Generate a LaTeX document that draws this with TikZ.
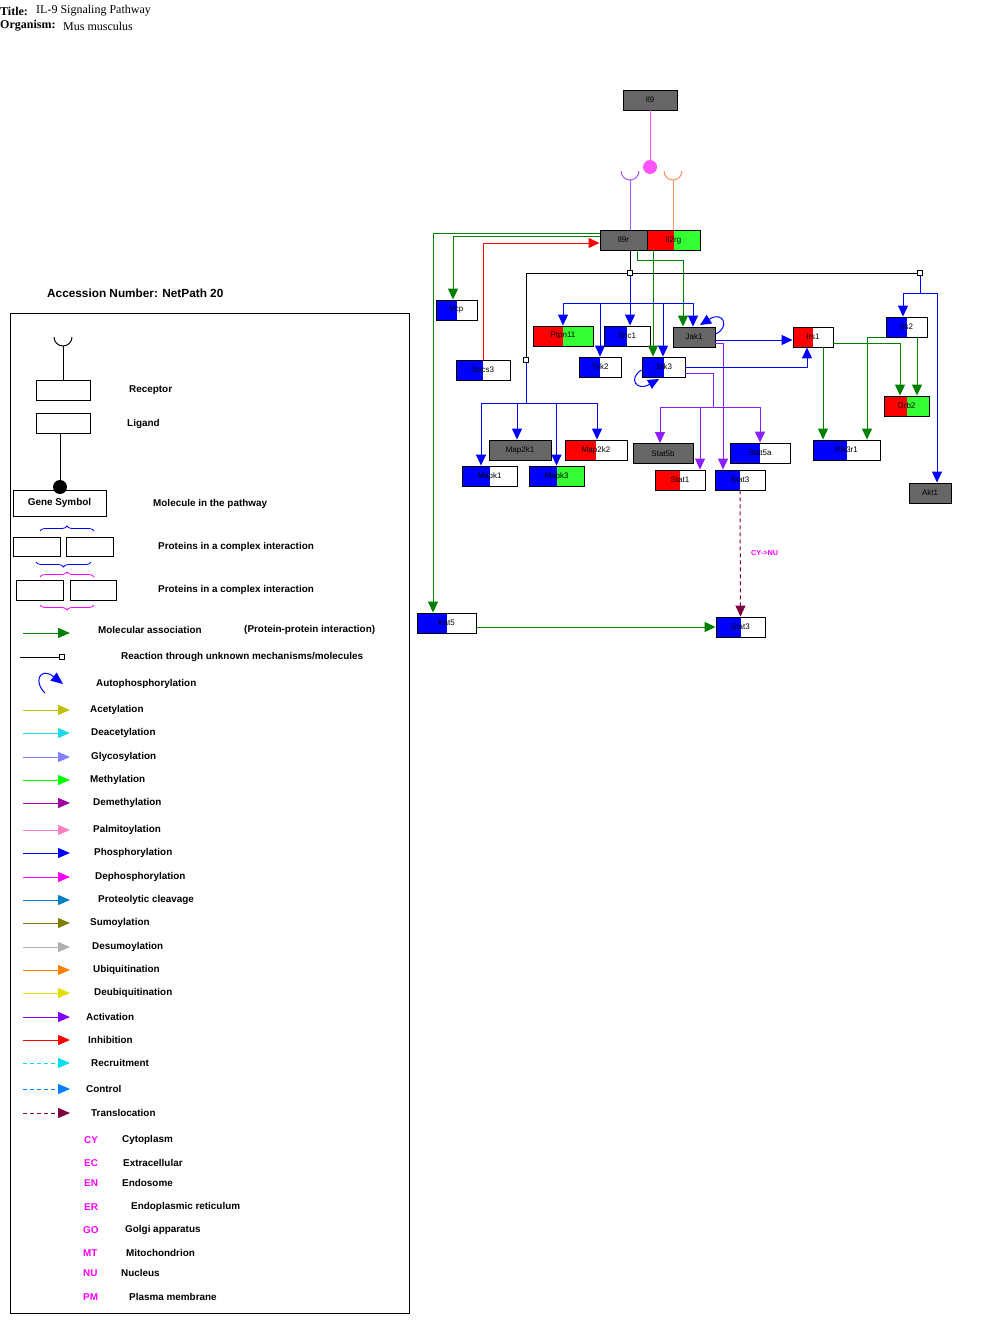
\documentclass[tikz,border=0pt]{standalone}
\usepackage{fontspec}
\setmainfont{Liberation Serif}
\newfontfamily\lsans{Liberation Sans}
\usetikzlibrary{arrows.meta,decorations.pathreplacing}
\definecolor{ggray}{HTML}{666666}
\definecolor{cgreen}{HTML}{008000}
\definecolor{lgreen}{HTML}{33FF33}
\definecolor{cpurple}{HTML}{8C1EFF}
\definecolor{cpink}{HTML}{FF55FF}
\definecolor{ccup}{HTML}{A855FF}
\definecolor{corange}{HTML}{FF9060}
\definecolor{cacet}{HTML}{C0C000}
\definecolor{cdeacet}{HTML}{20D8E8}
\definecolor{cglyco}{HTML}{8080FF}
\definecolor{cmeth}{HTML}{00FF00}
\definecolor{cdemeth}{HTML}{A000A0}
\definecolor{cpalm}{HTML}{FF80C0}
\definecolor{cphos}{HTML}{0000FF}
\definecolor{cdephos}{HTML}{FF00FF}
\definecolor{cprot}{HTML}{0080C0}
\definecolor{csumo}{HTML}{808000}
\definecolor{cdesumo}{HTML}{B0B0B0}
\definecolor{cubiq}{HTML}{FF8000}
\definecolor{cdeubiq}{HTML}{E0E000}
\definecolor{cact}{HTML}{8000FF}
\definecolor{cinhib}{HTML}{FF0000}
\definecolor{crecr}{HTML}{00E0F0}
\definecolor{cctrl}{HTML}{0080FF}
\definecolor{ctransl}{HTML}{800040}
\definecolor{cloc}{HTML}{FF00FF}
\begin{document}
\begin{tikzpicture}[x=1pt,y=-1pt,
  gene/.style={draw=black, line width=0.9pt, minimum height=20pt, inner sep=0pt,
    font=\lsans\fontsize{8}{9}\selectfont},
  lh/.style={path picture={\fill[#1] (path picture bounding box.south west) rectangle (path picture bounding box.north);}},
  ln/.style={line width=1pt},
  tip/.style={-{Triangle[length=11pt,width=10pt]}},
  assoc/.style={ln, draw=cgreen, tip},
  phos/.style={ln, draw=cphos, tip},
  act/.style={ln, draw=cpurple, tip},
  inhib/.style={ln, draw=cinhib, tip},
  transl/.style={ln, draw=ctransl, dash pattern=on 4pt off 3pt, tip},
  sq/.style={draw=black, line width=0.7pt, fill=white, minimum size=5pt, inner sep=0pt},
  lar/.style={line width=1pt, -{Triangle[length=12pt,width=10pt]}},
  leg/.style={anchor=west, inner sep=0pt, font=\lsans\bfseries\fontsize{9.9}{11}\selectfont},
  loc/.style={leg, text=cloc},
  box/.style={draw=black, line width=0.9pt, inner sep=0pt},
]
\useasboundingbox (0,0) rectangle (980,1343);

% ---------- title ----------
\node[anchor=west, inner sep=0pt, font=\fontsize{12}{13}\selectfont] (t1) at (0,11) {\textbf{Title:}};
\node[anchor=west, inner sep=0pt, font=\fontsize{12}{13}\selectfont] (t2) at (36,11) {IL-9 Signaling Pathway};
\node[anchor=west, inner sep=0pt, font=\fontsize{12}{13}\selectfont] (t3) at (0,26) {\textbf{Organism:}};
\node[anchor=west, inner sep=0pt, font=\fontsize{12}{13}\selectfont] (t4) at (63,26) {Mus musculus};

% ---------- pathway nodes ----------
\node[gene, fill=ggray, minimum width=54pt] (Il9) at (650,100) {Il9};
\node[gene, fill=ggray, minimum width=47pt] (Il9r) at (623.5,240) {Il9r};
\node[gene, fill=lgreen, lh=red, minimum width=53pt] (Il2rg) at (673.5,240) {Il2rg};
\node[gene, fill=white, lh=blue, minimum width=41pt] (Vcp) at (456.5,310) {Vcp};
\node[gene, fill=white, lh=blue, minimum width=54pt] (Socs3) at (483,370) {Socs3};
\node[gene, fill=lgreen, lh=red, minimum width=60pt] (Ptpn11) at (563,336) {Ptpn11};
\node[gene, fill=white, lh=blue, minimum width=46pt] (Shc1) at (627,336) {Shc1};
\node[gene, fill=ggray, minimum width=42pt] (Jak1) at (694,337) {Jak1};
\node[gene, fill=white, lh=blue, minimum width=42pt] (Tyk2) at (600,367) {Tyk2};
\node[gene, fill=white, lh=blue, minimum width=43pt] (Jak3) at (663.5,367) {Jak3};
\node[gene, fill=white, lh=red, minimum width=40pt] (Irs1) at (813,337) {Irs1};
\node[gene, fill=white, lh=blue, minimum width=41pt] (Irs2) at (906.5,327) {Irs2};
\node[gene, fill=lgreen, lh=red, minimum width=45pt] (Grb2) at (906.5,406) {Grb2};
\node[gene, fill=white, lh=blue, minimum width=67pt] (Pik3r1) at (846.5,450) {Pik3r1};
\node[gene, fill=ggray, minimum width=42pt] (Akt1) at (930,493) {Akt1};
\node[gene, fill=ggray, minimum width=62pt] (Map2k1) at (520,450) {Map2k1};
\node[gene, fill=white, lh=red, minimum width=62pt] (Map2k2) at (596,450) {Map2k2};
\node[gene, fill=white, lh=blue, minimum width=55pt] (Mapk1) at (489.5,476) {Mapk1};
\node[gene, fill=lgreen, lh=blue, minimum width=55pt] (Mapk3) at (556.5,476) {Mapk3};
\node[gene, fill=ggray, minimum width=60pt] (Stat5b) at (663,453.5) {Stat5b};
\node[gene, fill=white, lh=blue, minimum width=60pt] (Stat5a) at (760,453) {Stat5a};
\node[gene, fill=white, lh=red, minimum width=50pt] (Stat1) at (680,480) {Stat1};
\node[gene, fill=white, lh=blue, minimum width=50pt] (Stat3) at (740,480) {Stat3};
\node[gene, fill=white, lh=blue, minimum width=59pt] (Kat5) at (446.5,623) {Kat5};
\node[gene, fill=white, lh=blue, minimum width=49pt] (Stat3n) at (740.5,627) {Stat3};

% ---------- ligand / receptor ----------
\node[circle, fill=cpink, minimum size=14pt, inner sep=0pt] (lig) at (650,167) {};
\draw[cpink, line width=1pt] (Il9.south) -- (lig);
\coordinate (c1) at (630,180);
\coordinate (c2) at (673,180);
\draw[ccup, line width=1pt] (621,171) arc[start angle=180, end angle=360, radius=9pt];
\draw[ccup, line width=1pt] (c1) -- (c1 |- Il9r.north);
\draw[corange, line width=1pt] (664,171) arc[start angle=180, end angle=360, radius=9pt];
\draw[corange, line width=1pt] (c2) -- (c2 |- Il2rg.north);

% ---------- connectors from receptor ----------
\coordinate (k1) at (433,233);
\draw[assoc] (Il9r.west |- k1) -- (k1) -- (k1 |- Kat5.north);
\coordinate (v1) at (453,236);
\draw[assoc] (Il9r.west |- v1) -- (v1) -- (v1 |- Vcp.north);
\coordinate (r1) at (483,243);
\draw[inhib] (r1 |- Socs3.north) -- (r1) -- (Il9r.west |- r1);
\coordinate (g1) at (637,260);
\coordinate (g2) at (683,260);
\draw[assoc] (g1 |- Il9r.south) -- (g1) -- (g2) -- (g2 |- Jak1.north);
\coordinate (g3) at (653,300);
\draw[assoc] (g3 |- Il2rg.south) -- (g3 |- Jak3.north);

% unknown mechanism markers
\node[sq] (u1) at (630,273) {};
\node[sq] (u2) at (526,360) {};
\node[sq] (u3) at (920,273) {};
\draw[ln] (u1 |- Il9r.south) -- (u1.north);
\draw[ln] (u1.east) -- (u3.west);
\draw[ln] (u1.west) -| (u2.north);

% phosphorylation from u1
\coordinate (b1) at (630,303);
\draw[phos] (u1.south) -- (u1 |- Shc1.north);
\draw[phos] (b1) -| (Ptpn11.north);
\draw[phos] (b1) -| (Tyk2.north);
\draw[phos] (b1) -| ([xshift=-0.5pt]Jak3.north);
\draw[phos] (b1) -| ([xshift=-1pt]Jak1.north);

% phosphorylation from u2
\coordinate (m0) at (526,403);
\draw[ln, cphos] (u2.south) -- (m0);
\draw[phos] (m0) -| ([xshift=-8.5pt]Mapk1.north);
\draw[phos] (m0) -| ([xshift=-3pt]Map2k1.north);
\draw[phos] (m0) -| (Mapk3.north);
\draw[phos] (m0) -| ([xshift=1pt]Map2k2.north);

% phosphorylation from u3
\coordinate (a0) at (920,293);
\draw[ln, cphos] (u3.south) -- (a0);
\draw[phos] (a0) -| ([xshift=-3.5pt]Irs2.north);
\draw[phos] (a0) -| ([xshift=7pt]Akt1.north);

% autophosphorylation loops
\draw[phos] ([yshift=3pt]Jak1.east) .. controls (730,328) and (724,310) .. (700,325);
\draw[phos] ([yshift=-3pt]Jak3.west) .. controls (628,378) and (636,392) .. (659,379);

% Jak1 / Jak3 downstream
\draw[phos] ([yshift=-3pt]Jak1.east) -- ([yshift=-3pt]Irs1.west);
\coordinate (j1) at (723,343);
\draw[act] ([yshift=-6pt]Jak1.east) -- (j1) -- (j1 |- Stat3.north);
\draw[phos] (Jak3.east) -| ([xshift=-6pt]Irs1.south);
\coordinate (s0) at (713,407);
\draw[ln, cpurple] ([yshift=-6pt]Jak3.east) -| (s0);
\draw[act] (s0) -| ([xshift=-3pt]Stat5b.north);
\draw[act] (s0) -| ([xshift=20pt]Stat1.north);
\draw[act] (s0) -| (Stat5a.north);

% Irs1 / Irs2 associations
\draw[assoc] ([yshift=-6pt]Irs1.east) -| ([xshift=-6.5pt]Grb2.north);
\coordinate (i1) at (823,347);
\draw[assoc] (i1) -- (i1 |- Pik3r1.north);
\coordinate (i2) at (917,337);
\draw[assoc] (i2) -- (i2 |- Grb2.north);
\draw[assoc] (Irs2.south west) -| ([xshift=20.5pt]Pik3r1.north);

% Kat5 -> Stat3 ; translocation
\draw[assoc] ([yshift=-4pt]Kat5.east) -- (Stat3n.west);
\draw[transl] (Stat3.south) -- (Stat3n.north);
\node[anchor=west, inner sep=0pt, text=cloc, font=\lsans\bfseries\fontsize{7.3}{8}\selectfont] (cynu) at (751,553) {CY->NU};

% ---------- legend ----------
\node[anchor=west, inner sep=0pt, font=\lsans\bfseries\fontsize{11.8}{13}\selectfont] (acc) at (47,293) {Accession Number: NetPath 20};
\draw[line width=1pt] (10,313) rectangle (409,1313);

% receptor / ligand symbols
\draw[line width=1pt] (54,337) arc[start angle=180, end angle=360, radius=9pt];
\node[box, minimum width=54pt, minimum height=20pt] (lrec) at (63,390) {};
\draw[line width=1pt] (63,346) -- (lrec.north);
\node[leg] (lrect) at (129,390) {Receptor};
\node[box, minimum width=54pt, minimum height=20pt] (llig) at (63,423) {};
\node[leg] (lligt) at (127,424) {Ligand};
\node[circle, fill=black, minimum size=14pt, inner sep=0pt] (ldot) at (60,487) {};
\draw[line width=1pt] (60,433) -- (ldot);
\node[box, minimum width=93pt, minimum height=26pt, font=\lsans\bfseries\fontsize{9.9}{11}\selectfont] (lgs) at (59.5,503) {Gene Symbol};
\node[leg] (lmol) at (153,504) {Molecule in the pathway};

% complexes
\node[box, minimum width=47pt, minimum height=19pt] (lc1) at (36.5,546.5) {};
\node[box, minimum width=47pt, minimum height=19pt] (lc2) at (89.5,546.5) {};
\node[box, minimum width=47pt, minimum height=20pt] (lc3) at (39.5,590) {};
\node[box, minimum width=46pt, minimum height=20pt] (lc4) at (93,590) {};
\draw[cphos, line width=0.8pt, decorate, decoration={brace, amplitude=5pt}] (40,531) -- (94,531);
\draw[cphos, line width=0.8pt, decorate, decoration={brace, amplitude=5pt, mirror}] (36,562) -- (91,562);
\draw[cloc, line width=0.8pt, decorate, decoration={brace, amplitude=5pt}] (40,577) -- (94,577);
\draw[cloc, line width=0.8pt, decorate, decoration={brace, amplitude=5pt, mirror}] (40,605) -- (94,605);
\node[leg] (lpc1) at (158,547) {Proteins in a complex interaction};
\node[leg] (lpc2) at (158,590) {Proteins in a complex interaction};

% arrows
\draw[lar, cgreen] (23,633) -- (70,633);
\node[leg] (lma) at (98,630) {Molecular association};
\node[leg] (lppi) at (244,630) {(Protein-protein interaction)};
\node[sq] (lsq) at (62,657) {};
\draw[line width=1pt] (20,657) -- (lsq.west);
\node[leg] (lunk) at (121,657) {Reaction through unknown mechanisms/molecules};
\draw[lar, cphos] (45,693) .. controls (33,682) and (40,666) .. (63,684);
\node[leg] (lauto) at (96,684) {Autophosphorylation};

\foreach \y/\c/\t/\tx/\n in {
  710/cacet/Acetylation/90/a1,
  733/cdeacet/Deacetylation/91/a2,
  757/cglyco/Glycosylation/91/a3,
  780/cmeth/Methylation/90/a4,
  803/cdemeth/Demethylation/93/a5,
  830/cpalm/Palmitoylation/93/a6,
  853/cphos/Phosphorylation/94/a7,
  877/cdephos/Dephosphorylation/95/a8,
  900/cprot/Proteolytic cleavage/98/a9,
  923/csumo/Sumoylation/90/a10,
  947/cdesumo/Desumoylation/92/a11,
  970/cubiq/Ubiquitination/93/a12,
  993/cdeubiq/Deubiquitination/94/a13,
  1017/cact/Activation/86/a14,
  1040/cinhib/Inhibition/88/a15}{
  \draw[lar, \c] (23,\y) -- (70,\y);
  \node[leg] (\n) at (\tx,\y) {\t};
}
\draw[lar, crecr, dash pattern=on 4pt off 3pt] (23,1063) -- (70,1063);
\node[leg] (a16) at (91,1063) {Recruitment};
\draw[lar, cctrl, dash pattern=on 4pt off 3pt] (23,1089) -- (70,1089);
\node[leg] (a17) at (86,1089) {Control};
\draw[lar, ctransl, dash pattern=on 4pt off 3pt] (23,1113) -- (70,1113);
\node[leg] (a18) at (91,1113) {Translocation};

% locations
\foreach \y/\ab/\ax/\t/\tx/\n in {
  1140/CY/84/Cytoplasm/122/b1,
  1163/EC/84/Extracellular/123/b2,
  1183/EN/84/Endosome/122/b3,
  1207/ER/84/Endoplasmic reticulum/131/b4,
  1230/GO/83/Golgi apparatus/125/b5,
  1253/MT/83/Mitochondrion/126/b6,
  1273/NU/83/Nucleus/121/b7,
  1297/PM/83/Plasma membrane/129/b8}{
  \node[loc] (\n a) at (\ax,\y) {\ab};
  \node[leg] (\n b) at (\tx,\y) {\t};
}
\end{tikzpicture}
\end{document}
